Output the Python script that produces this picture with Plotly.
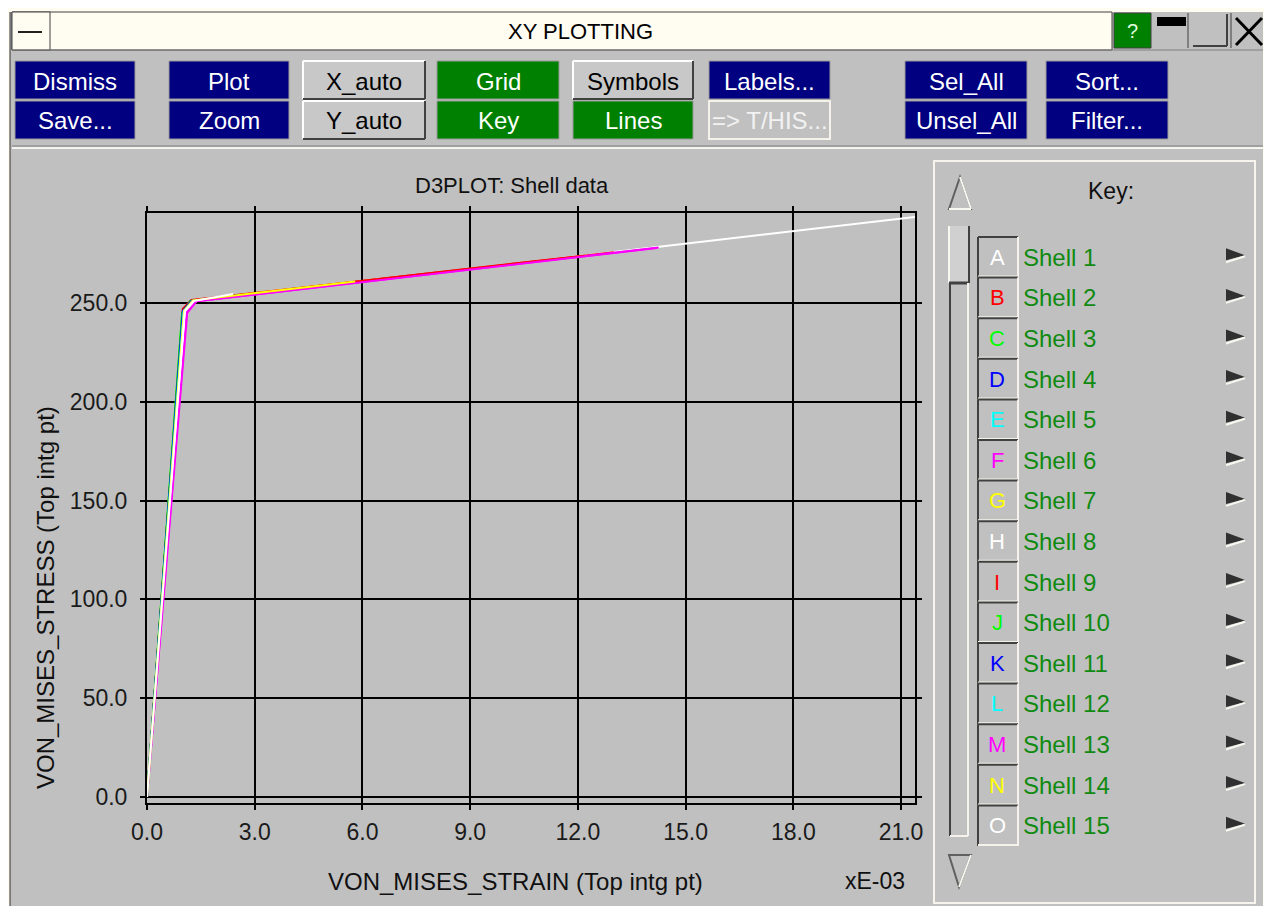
import plotly.graph_objects as go

# the page puts the figure 8px in from the top-left corner, so the figure is
# made 16px smaller and every pixel position is shifted by that offset
OFF = 8
W, H = 1272 - 2 * OFF, 914 - 2 * OFF
FONT = "Liberation Sans, Arial, sans-serif"

# ---- data (strain in 1e-3, stress) ----
shell_names = ["Shell 1", "Shell 2", "Shell 3", "Shell 4", "Shell 5", "Shell 6", "Shell 7", "Shell 8",
               "Shell 9", "Shell 10", "Shell 11", "Shell 12", "Shell 13", "Shell 14", "Shell 15"]
shell_letters = ["A", "B", "C", "D", "E", "F", "G", "H", "I", "J", "K", "L", "M", "N", "O"]
shell_colors = ["#ffffff", "#ff0000", "#00ff00", "#0000ff", "#00ffff", "#ff00ff", "#ffff00", "#ffffff",
                "#ff0000", "#00ff00", "#0000ff", "#00ffff", "#ff00ff", "#ffff00", "#ffffff"]

yield_strain = [1.04, 1.00, 0.98, 1.00, 1.02, 1.10, 1.02, 1.06, 1.00, 0.98, 1.00, 1.02, 1.12, 1.03, 1.05]
yield_stress = [246, 247, 245, 246, 247, 245, 246, 246, 247, 245, 246, 246, 245, 246, 246]
knee_strain = [1.32, 1.24, 1.20, 1.22, 1.26, 1.36, 1.28, 1.32, 1.24, 1.22, 1.24, 1.27, 1.38, 1.28, 1.30]
knee_stress = [251.0, 251.3, 251.0, 251.0, 251.0, 250.8, 251.3, 251.0, 251.5, 251.0, 251.0, 251.0, 250.8, 251.3, 251.0]
end_strain = [21.39, 13.0, 4.5, 2.2, 1.8, 14.25, 6.5, 4.0, 12.2, 3.2, 2.6, 2.0, 14.2, 5.8, 2.4]
end_stress = [293.5, 275.6, 258.0, 253.0, 252.5, 278.0, 262.0, 257.0, 273.9, 255.0, 254.0, 252.5, 277.8, 260.8, 254.5]

x_ticks = [0, 3, 6, 9, 12, 15, 18, 21]
y_ticks = [0, 50, 100, 150, 200, 250]

# ---- helpers (screen pixel -> paper) ----
def X(p):
    return (p - OFF) / W

def Y(p):
    return 1 - (p - OFF) / H

shapes = []
notes = []

def rect(x0, y0, x1, y1, fill=None, line=None, lw=1):
    shapes.append(dict(type="rect", xref="paper", yref="paper",
                       x0=X(x0), x1=X(x1), y0=Y(y1), y1=Y(y0),
                       fillcolor=fill or "rgba(0,0,0,0)",
                       line=dict(color=line or "rgba(0,0,0,0)", width=lw if line else 0)))

def seg(x0, y0, x1, y1, color, w=1):
    shapes.append(dict(type="line", xref="paper", yref="paper",
                       x0=X(x0), x1=X(x1), y0=Y(y0), y1=Y(y1),
                       line=dict(color=color, width=w)))

def poly(pts, fill=None, line=None, lw=1, close=True):
    d = "M " + " L ".join(f"{X(a):.5f},{Y(b):.5f}" for a, b in pts) + (" Z" if close else "")
    shapes.append(dict(type="path", xref="paper", yref="paper", path=d,
                       fillcolor=fill or "rgba(0,0,0,0)",
                       line=dict(color=line or "rgba(0,0,0,0)", width=lw if line else 0)))

def text(x, y, s, size=23, color="#000000", xanchor="center", angle=0):
    notes.append(dict(xref="paper", yref="paper", x=X(x), y=Y(y), text=s, showarrow=False,
                      xanchor=xanchor, yanchor="middle", textangle=angle,
                      font=dict(family=FONT, size=size, color=color)))

CREAM = "#fffcf2"

# outer cream margins
rect(OFF, OFF, 1272, 12, CREAM)
rect(OFF, OFF, 10, 914, CREAM)
rect(1263, OFF, 1272, 914, CREAM)
seg(10, 12, 10, 911, "#303030", 1)

# title bar
rect(12, 12, 1112, 50, CREAM, "#404040", 1)
rect(12, 12, 50, 50, CREAM, "#404040", 1)
seg(18, 32, 42, 32, "#202020", 2)
text(580, 32, "XY PLOTTING", 22, "#000000")
rect(1114, 13, 1151, 48, "#008000", "#404040", 1)
text(1132, 31, "?", 20, "#e0ffe0")
rect(1157, 17, 1186, 26, "#000000")
seg(1188, 13, 1188, 48, "#404040", 1)
seg(1193, 46, 1227, 46, "#404040", 2)
seg(1227, 14, 1227, 46, "#404040", 2)
seg(1231, 13, 1231, 48, "#404040", 1)
seg(1236, 18, 1262, 45, "#000000", 3)
seg(1262, 18, 1236, 45, "#000000", 3)
seg(12, 50, 1263, 50, "#808080", 1)

# toolbar buttons
buttons = [
    ("Dismiss", 15, 135, 0, "navy"), ("Save...", 15, 135, 1, "navy"),
    ("Plot", 169, 289, 0, "navy"), ("Zoom", 169, 289, 1, "navy"),
    ("X_auto", 303, 425, 0, "gray"), ("Y_auto", 303, 425, 1, "gray"),
    ("Grid", 437, 559, 0, "green"), ("Key", 437, 559, 1, "green"),
    ("Symbols", 573, 693, 0, "gray"), ("Lines", 573, 693, 1, "green"),
    ("Labels...", 709, 830, 0, "navy"), ("=&gt; T/HIS...", 709, 830, 1, "off"),
    ("Sel_All", 905, 1027, 0, "navy"), ("Unsel_All", 905, 1027, 1, "navy"),
    ("Sort...", 1046, 1168, 0, "navy"), ("Filter...", 1046, 1168, 1, "navy"),
]
rows = [(61, 99), (101, 139)]
for label, x0, x1, r, style in buttons:
    y0, y1 = rows[r]
    if style == "navy":
        rect(x0, y0, x1, y1, "#000080", "#9a9a9a", 1)
        col = "#ffffff"
    elif style == "green":
        rect(x0, y0, x1, y1, "#008000", "#9a9a9a", 1)
        col = "#ffffff"
    elif style == "gray":
        rect(x0, y0, x1, y1, "#c8c8c8")
        seg(x0, y0, x1, y0, "#ffffff", 2)
        seg(x0, y0, x0, y1, "#ffffff", 2)
        seg(x0, y1, x1, y1, "#404040", 2)
        seg(x1, y0, x1, y1, "#404040", 2)
        col = "#000000"
    else:
        rect(x0, y0, x1, y1, "#c0c0c0", "#f4f2ea", 2)
        col = "#f2f2f2"
    text((x0 + x1) / 2, (y0 + y1) / 2 + 1, label, 24, col)

seg(12, 146, 1263, 146, "#808080", 1)
seg(12, 148, 1263, 148, "#f4f4f0", 2)

# plot texts
text(512, 185, "D3PLOT: Shell data", 22, "#101010")
text(45, 598, "VON_MISES_STRESS (Top intg pt)", 24, "#101010", angle=-90)
text(515, 881, "VON_MISES_STRAIN (Top intg pt)", 24, "#101010")
text(875, 881, "xE-03", 23, "#101010")

# key panel
rect(934, 161, 1255, 903, None, "#f6f4ec", 2)
text(1111, 191, "Key:", 23, "#101010")
poly([(960, 177), (949, 209), (971, 209)], None, "#606060", 2)
seg(949, 209, 971, 209, "#f8f8f0", 2)
seg(960, 177, 971, 209, "#f8f8f0", 2)
poly([(949, 855), (971, 855), (959, 887)], None, "#606060", 2)
seg(971, 855, 959, 887, "#f8f8f0", 2)
# scroll bar
rect(949, 226, 969, 283, "#d0d0d0")
seg(949, 226, 949, 283, "#f8f8f0", 2)
seg(969, 226, 969, 283, "#404040", 2)
seg(949, 283, 969, 283, "#404040", 3)
seg(950, 283, 950, 836, "#404040", 2)
seg(968, 283, 968, 836, "#f4f2ea", 2)
seg(950, 836, 968, 836, "#f4f2ea", 2)

row_top = 237
row_h = 40.6
for i, (name, letter, col) in enumerate(zip(shell_names, shell_letters, shell_colors)):
    t = row_top + i * row_h
    b = t + row_h
    c = (t + b) / 2
    seg(978, t, 1018, t, "#404040", 2)
    seg(978, t, 978, b, "#404040", 2)
    seg(978, b - 1, 1018, b - 1, "#f4f2ea", 2)
    seg(1018, t, 1018, b, "#f4f2ea", 2)
    text(997, c, letter, 22, col)
    text(1021, c, name, 24, "#108a10", xanchor="left")
    poly([(1226, c - 9), (1245, c - 2), (1226, c + 3)], "#303030")
    seg(1226, c + 5, 1245, c - 1, "#f8f8f0", 2)

# ---- curves ----
fig = go.Figure()
for i in range(len(shell_names)):
    xs = [0.0, yield_strain[i], knee_strain[i], end_strain[i]]
    ys = [0.0, yield_stress[i], knee_stress[i], end_stress[i]]
    fig.add_trace(go.Scatter(x=xs, y=ys, mode="lines", name=shell_names[i],
                             line=dict(color=shell_colors[i], width=2),
                             showlegend=False, hoverinfo="skip"))

axis_common = dict(showgrid=True, gridcolor="#000000", gridwidth=2,
                   showline=True, linecolor="#000000", linewidth=2, mirror="ticks",
                   ticks="outside", ticklen=5, tickwidth=2, tickcolor="#000000",
                   tickformat=".1f", zeroline=True, zerolinecolor="#000000", zerolinewidth=2,
                   automargin=False,
                   tickfont=dict(family=FONT, size=23, color="#1a1a1a"))

fig.update_layout(
    width=W, height=H,
    margin=dict(l=0, r=0, t=0, b=0, pad=0, autoexpand=False),
    paper_bgcolor="#c0c0c0", plot_bgcolor="#c0c0c0",
    xaxis=dict(domain=[X(147), X(915)], range=[0, 21.39], tickvals=x_ticks,
               ticklabelstandoff=2, **axis_common),
    yaxis=dict(domain=[Y(803), Y(213)], range=[-3.04, 295.5], tickvals=y_ticks,
               ticklabelstandoff=8, **axis_common),
    shapes=shapes, annotations=notes, showlegend=False,
)

fig.write_html("out.html")
